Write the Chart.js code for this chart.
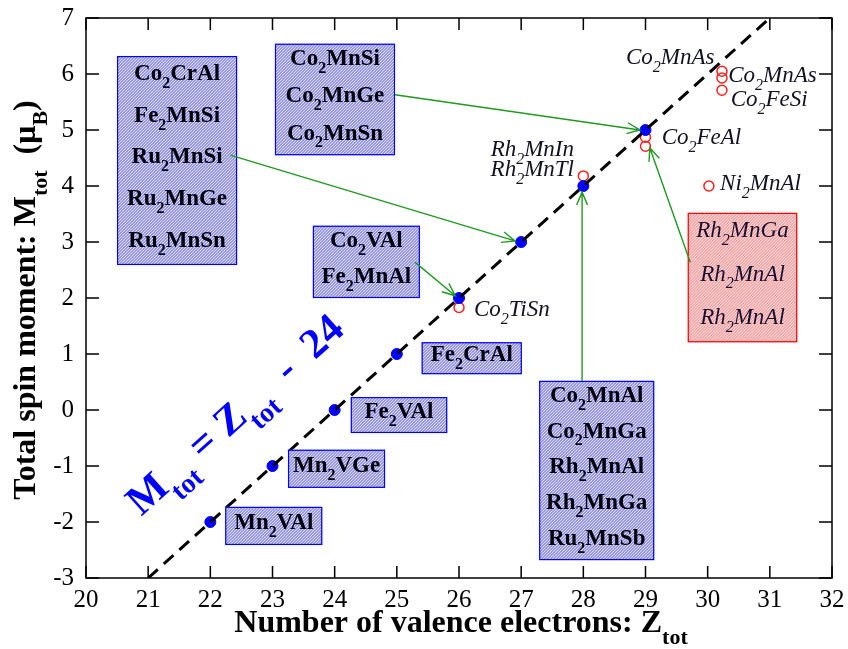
<!DOCTYPE html>
<html>
<head>
<meta charset="utf-8">
<script src="https://cdn.jsdelivr.net/npm/chart.js@4.4.1/dist/chart.umd.min.js"></script>
<style>
  html, body { margin: 0; padding: 0; background: #fff; }
  #wrap { width: 848px; height: 649px; }
</style>
</head>
<body>
<div id="wrap"><canvas id="c-chart-sp"></canvas></div>
<script>
// Slater-Pauling line points (filled blue)
var zSP = [22, 23, 24, 25, 26, 27, 28, 29]
var mSP = [-2, -1, 0, 1, 2, 3, 4, 5]
// compounds off the line (open red circles)
var zOff = [26, 28, 29, 29, 30.23, 30.23, 30.23, 30.02]
var mOff = [1.83, 4.18, 4.87, 4.71, 6.05, 5.93, 5.71, 4.0]
// M = Z - 24 guide line
var zLine = [21, 31]
var mLine = [-3, 7]
var xTicks = [20, 21, 22, 23, 24, 25, 26, 27, 28, 29, 30, 31, 32]
var yTicks = [-3, -2, -1, 0, 1, 2, 3, 4, 5, 6, 7]

// labelled boxes: [x0, y0, x1, y1] in data units, and their compounds
var boxes = [
  { r: [20.50, 6.32, 22.43, 2.59], names: ['Co_2CrAl', 'Fe_2MnSi', 'Ru_2MnSi', 'Ru_2MnGe', 'Ru_2MnSn'] },
  { r: [23.04, 6.54, 24.97, 4.55], names: ['Co_2MnSi', 'Co_2MnGe', 'Co_2MnSn'] },
  { r: [23.65, 3.29, 25.37, 2.00], names: ['Co_2VAl', 'Fe_2MnAl'] },
  { r: [25.40, 1.21, 27.01, 0.64], names: ['Fe_2CrAl'] },
  { r: [24.26, 0.23, 25.81, -0.41], names: ['Fe_2VAl'] },
  { r: [23.25, -0.71, 24.81, -1.39], names: ['Mn_2VGe'] },
  { r: [22.24, -1.73, 23.80, -2.41], names: ['Mn_2VAl'] },
  { r: [27.29, 0.52, 29.14, -2.68], names: ['Co_2MnAl', 'Co_2MnGa', 'Rh_2MnAl', 'Rh_2MnGa', 'Ru_2MnSb'] },
  { r: [29.68, 3.52, 31.44, 1.21], names: ['Rh_2MnGa', 'Rh_2MnAl', 'Rh_2MnAl'], red: true }
]
// green arrows: [fromX, fromY, toX, toY]
var arrows = [
  [22.32, 4.55, 26.90, 3.02],
  [24.97, 5.63, 28.91, 5.00],
  [25.29, 2.64, 25.94, 2.04],
  [27.98, 0.52, 27.98, 3.89],
  [29.72, 2.64, 29.07, 4.68]
]
// italic labels next to the red circles: [text, x, y, align]
var offLabels = [
  ['Co_2MnAs', 30.11, 6.29, 'right'],
  ['Co_2MnAs', 30.33, 5.96, 'left'],
  ['Co_2FeSi', 30.37, 5.54, 'left'],
  ['Co_2FeAl', 29.26, 4.86, 'left'],
  ['Ni_2MnAl', 30.20, 4.04, 'left'],
  ['Rh_2MnIn', 27.85, 4.64, 'right'],
  ['Rh_2MnTl', 27.85, 4.29, 'right'],
  ['Co_2TiSn', 26.24, 1.79, 'left']
]

var FONT = '"Liberation Serif", "Times New Roman", serif'
Chart.defaults.font.family = FONT

function parseRich(s) {
  var parts = []
  var i = 0
  var buf = ''
  while (i < s.length) {
    if (s[i] === '_') {
      if (buf) { parts.push({ t: buf, sub: false }); buf = '' }
      if (s[i + 1] === '{') {
        var j = s.indexOf('}', i)
        parts.push({ t: s.slice(i + 2, j), sub: true })
        i = j + 1
      } else {
        parts.push({ t: s[i + 1], sub: true })
        i += 2
      }
    } else {
      buf += s[i]
      i++
    }
  }
  if (buf) parts.push({ t: buf, sub: false })
  return parts
}

function fontFor(o, sub) {
  var size = sub ? Math.round(o.size * (o.subScale || 0.68)) : o.size
  return (o.italic ? 'italic ' : '') + (o.bold ? 'bold ' : '') + size + 'px ' + FONT
}

// draws text with subscripts; y is the middle of the main text
function drawRich(ctx, s, x, y, o) {
  var parts = parseRich(s)
  var w = 0
  parts.forEach(function (p) {
    ctx.font = fontFor(o, p.sub)
    p.w = ctx.measureText(p.t).width
    w += p.w
  })
  var cx = x
  if (o.align === 'center') cx = x - w / 2
  if (o.align === 'right') cx = x - w
  ctx.save()
  ctx.fillStyle = o.color || '#000'
  ctx.textAlign = 'left'
  ctx.textBaseline = 'middle'
  parts.forEach(function (p) {
    ctx.font = fontFor(o, p.sub)
    ctx.fillText(p.t, cx, p.sub ? y + o.size * (o.subDrop || 0.42) : y)
    cx += p.w
  })
  ctx.restore()
  return w
}

function makePattern(ctx, a, b) {
  var c = document.createElement('canvas')
  c.width = 3
  c.height = 3
  var g = c.getContext('2d')
  g.fillStyle = a
  g.fillRect(0, 0, 3, 3)
  g.fillStyle = b
  g.fillRect(0, 0, 1, 1)
  g.fillRect(2, 1, 1, 1)
  g.fillRect(1, 2, 1, 1)
  return ctx.createPattern(c, 'repeat')
}

var extras = {
  id: 'extras',
  afterDatasetsDraw: function (chart) {
    var ctx = chart.ctx
    var xs = chart.scales.x
    var ys = chart.scales.y
    var area = chart.chartArea
    var px = function (v) { return xs.getPixelForValue(v) }
    var py = function (v) { return ys.getPixelForValue(v) }

    // boxes with compound names
    var bluePat = makePattern(ctx, 'rgb(150,150,240)', 'rgb(225,225,255)')
    var redPat = makePattern(ctx, 'rgb(255,165,165)', 'rgb(255,225,225)')
    boxes.forEach(function (b) {
      var x0 = px(b.r[0]), y0 = py(b.r[1]), x1 = px(b.r[2]), y1 = py(b.r[3])
      ctx.save()
      ctx.fillStyle = b.red ? redPat : bluePat
      ctx.fillRect(x0, y0, x1 - x0, y1 - y0)
      ctx.strokeStyle = b.red ? '#ff0000' : '#0000ff'
      ctx.lineWidth = 1.2
      ctx.strokeRect(x0 + 0.5, y0 + 0.5, x1 - x0 - 1, y1 - y0 - 1)
      ctx.restore()
      var h = (y1 - y0) / b.names.length
      b.names.forEach(function (n, i) {
        drawRich(ctx, n, (x0 + x1) / 2, y0 + h * (i + 0.5) - 3, {
          size: 23, bold: !b.red, italic: !!b.red, align: 'center', color: b.red ? '#111133' : '#000'
        })
      })
    })

    // arrows
    ctx.save()
    ctx.strokeStyle = '#1f9a1f'
    ctx.lineWidth = 1.4
    arrows.forEach(function (a) {
      var x0 = px(a[0]), y0 = py(a[1]), x1 = px(a[2]), y1 = py(a[3])
      var ang = Math.atan2(y1 - y0, x1 - x0)
      ctx.beginPath()
      ctx.moveTo(x0, y0)
      ctx.lineTo(x1, y1)
      ctx.moveTo(x1 - 14 * Math.cos(ang - 0.4), y1 - 14 * Math.sin(ang - 0.4))
      ctx.lineTo(x1, y1)
      ctx.lineTo(x1 - 14 * Math.cos(ang + 0.4), y1 - 14 * Math.sin(ang + 0.4))
      ctx.stroke()
    })
    ctx.restore()

    // italic labels
    offLabels.forEach(function (l) {
      drawRich(ctx, l[0], px(l[1]), py(l[2]), { size: 23, italic: true, align: l[3], color: '#111122' })
    })

    // M_tot = Z_tot - 24 along the guide line
    var ang = Math.atan2(py(mLine[1]) - py(mLine[0]), px(zLine[1]) - px(zLine[0]))
    ctx.save()
    ctx.translate(px(20.9), py(-1.92))
    ctx.rotate(ang)
    drawRich(ctx, 'M_{tot} = Z_{tot}  -  24', 0, -12, {
      size: 42, bold: true, align: 'left', color: '#0000ff', subScale: 0.66, subDrop: 0.45
    })
    ctx.restore()

    // frame and inward ticks
    ctx.save()
    ctx.strokeStyle = '#000'
    ctx.lineWidth = 1.5
    ctx.strokeRect(area.left, area.top, area.right - area.left, area.bottom - area.top)
    ctx.beginPath()
    xTicks.forEach(function (t) {
      var x = px(t)
      ctx.moveTo(x, area.bottom)
      ctx.lineTo(x, area.bottom - 12)
      ctx.moveTo(x, area.top)
      ctx.lineTo(x, area.top + 12)
    })
    yTicks.forEach(function (t) {
      var y = py(t)
      ctx.moveTo(area.left, y)
      ctx.lineTo(area.left + 13, y)
      ctx.moveTo(area.right, y)
      ctx.lineTo(area.right - 13, y)
    })
    ctx.stroke()
    ctx.restore()

    // tick labels
    xTicks.forEach(function (t) {
      drawRich(ctx, String(t), px(t), area.bottom + 22, { size: 25, align: 'center' })
    })
    yTicks.forEach(function (t) {
      drawRich(ctx, String(t), area.left - 12, py(t), { size: 25, align: 'right' })
    })

    // axis titles
    drawRich(ctx, 'Number of valence electrons: Z_{tot}', (area.left + area.right) / 2 + 2, 624, {
      size: 32, bold: true, align: 'center', subScale: 0.7, subDrop: 0.45
    })
    ctx.save()
    ctx.translate(27, (area.top + area.bottom) / 2 + 2)
    ctx.rotate(-Math.PI / 2)
    drawRich(ctx, 'Total spin moment: M_{tot}  (\u03bc_B)', 0, 0, {
      size: 32, bold: true, align: 'center', subScale: 0.7, subDrop: 0.45
    })
    ctx.restore()
  }
}

var ctx = document.getElementById('c-chart-sp').getContext('2d')
var chart = new Chart(ctx, {
  type: 'scatter',
  data: {
    datasets: [
      {
        label: 'M = Z - 24',
        data: zLine.map(function (z, i) { return { x: z, y: mLine[i] } }),
        showLine: true,
        borderColor: '#000',
        borderWidth: 3,
        borderDash: [13, 8],
        pointRadius: 0
      },
      {
        label: 'Slater-Pauling',
        data: zSP.map(function (z, i) { return { x: z, y: mSP[i] } }),
        pointRadius: 5.5,
        pointBackgroundColor: '#0000ff',
        pointBorderColor: '#0000ff',
        pointBorderWidth: 1
      },
      {
        label: 'off line',
        data: zOff.map(function (z, i) { return { x: z, y: mOff[i] } }),
        pointRadius: 5,
        pointBackgroundColor: 'rgba(255,255,255,0)',
        pointBorderColor: '#ff2020',
        pointBorderWidth: 1.5
      }
    ]
  },
  options: {
    responsive: true,
    maintainAspectRatio: false,
    animation: false,
    layout: { padding: { top: 18, right: 16, left: 0, bottom: 0 } },
    plugins: {
      legend: { display: false },
      tooltip: { enabled: false }
    },
    scales: {
      x: {
        type: 'linear',
        min: 20,
        max: 32,
        grid: { display: false, drawTicks: false },
        border: { display: false },
        afterFit: function (s) { s.height = 71 },
        afterBuildTicks: function (s) { s.ticks = xTicks.map(function (v) { return { value: v } }) },
        ticks: { display: false }
      },
      y: {
        type: 'linear',
        min: -3,
        max: 7,
        grid: { display: false, drawTicks: false },
        border: { display: false },
        afterFit: function (s) { s.width = 86 },
        afterBuildTicks: function (s) { s.ticks = yTicks.map(function (v) { return { value: v } }) },
        ticks: { display: false }
      }
    }
  },
  plugins: [extras]
})
</script>
</body>
</html>
